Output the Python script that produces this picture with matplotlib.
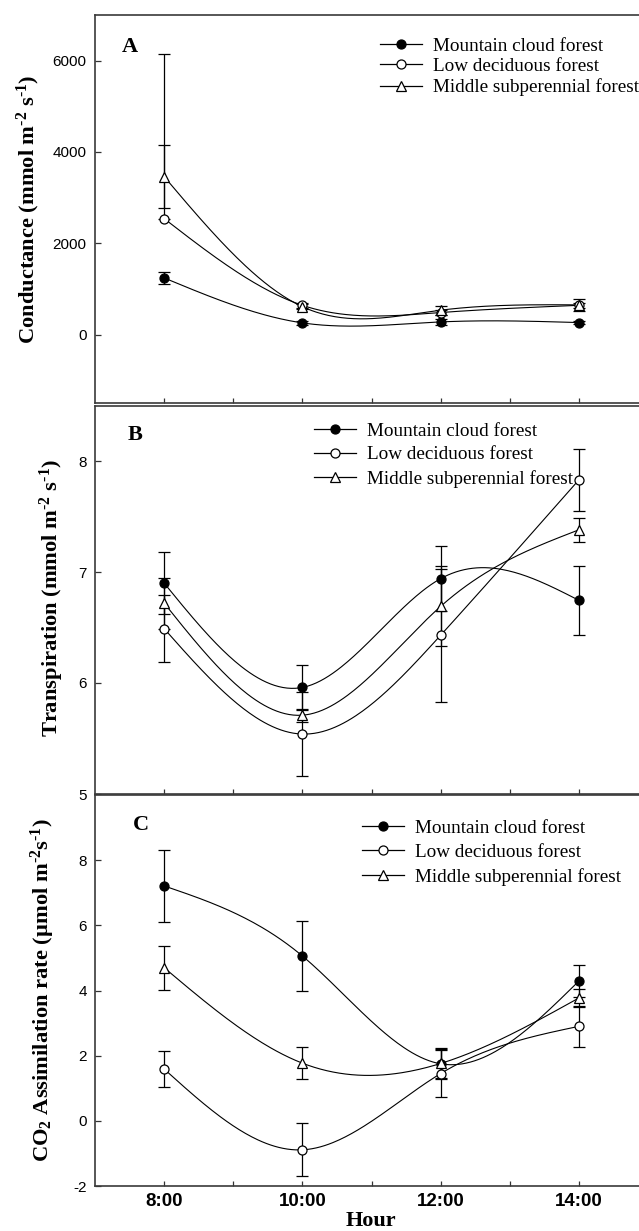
import numpy as np
import matplotlib
matplotlib.use("Agg")
import matplotlib.pyplot as plt
from matplotlib.lines import Line2D

plt.rcParams['font.family'] = ['Liberation Sans', 'DejaVu Sans']
plt.rcParams['mathtext.fontset'] = 'custom'
plt.rcParams['mathtext.rm'] = 'Liberation Serif:bold'
plt.rcParams['mathtext.bf'] = 'Liberation Serif:bold'
plt.rcParams['mathtext.default'] = 'bf'
plt.rcParams['axes.unicode_minus'] = False

# sampling hours
hours = [8, 10, 12, 14]
hour_labels = ['8:00', '10:00', '12:00', '14:00']
series_names = ['Mountain cloud forest', 'Low deciduous forest', 'Middle subperennial forest']

# A - conductance
cond_mountain = [1240, 255, 276, 262]
cond_mountain_err = [130, 40, 60, 40]
cond_low = [2540, 640, 482, 640]
cond_low_err_lo = [0, 50, 60, 60]
cond_low_err_hi = [3610, 50, 60, 60]
cond_middle = [3460, 610, 533, 650]
cond_middle_err = [690, 60, 95, 125]

# B - transpiration
tr_mountain = [6.90, 5.96, 6.94, 6.745]
tr_mountain_err = [0.28, 0.20, 0.29, 0.31]
tr_low = [6.49, 5.54, 6.43, 7.83]
tr_low_err = [0.30, 0.38, 0.60, 0.28]
tr_middle = [6.72, 5.71, 6.69, 7.38]
tr_middle_err = [0.23, 0.06, 0.36, 0.11]

# C - CO2 assimilation
co2_mountain = [7.21, 5.06, 1.75, 4.29]
co2_mountain_err = [1.11, 1.08, 0.45, 0.50]
co2_low = [1.59, -0.89, 1.45, 2.90]
co2_low_err = [0.56, 0.81, 0.72, 0.63]
co2_middle = [4.70, 1.77, 1.76, 3.77]
co2_middle_err = [0.67, 0.49, 0.48, 0.28]


def natural_spline(x, y, num=200):
    """Natural cubic spline through the points, used only to draw the curve."""
    x = np.asarray(x, float)
    y = np.asarray(y, float)
    n = len(x)
    h = np.diff(x)
    A = np.zeros((n, n))
    r = np.zeros(n)
    A[0, 0] = 1
    A[-1, -1] = 1
    for i in range(1, n - 1):
        A[i, i - 1] = h[i - 1]
        A[i, i] = 2 * (h[i - 1] + h[i])
        A[i, i + 1] = h[i]
        r[i] = 6 * ((y[i + 1] - y[i]) / h[i] - (y[i] - y[i - 1]) / h[i - 1])
    M = np.linalg.solve(A, r)
    xs = np.linspace(x[0], x[-1], num)
    ys = np.empty_like(xs)
    for k, t in enumerate(xs):
        i = min(np.searchsorted(x, t, side='right') - 1, n - 2)
        a, b = x[i], x[i + 1]
        hi = b - a
        ys[k] = (M[i] * (b - t) ** 3 / (6 * hi) + M[i + 1] * (t - a) ** 3 / (6 * hi)
                 + (y[i] / hi - M[i] * hi / 6) * (b - t)
                 + (y[i + 1] / hi - M[i + 1] * hi / 6) * (t - a))
    return xs, ys


styles = [dict(marker='o', mfc='black'),
          dict(marker='o', mfc='white'),
          dict(marker='^', mfc='white')]


def draw_series(ax, y, err, st):
    xs, ys = natural_spline(hours, y)
    ax.plot(xs, ys, color='black', lw=0.8, zorder=2)
    ax.errorbar(hours, y, yerr=err, fmt='none', ecolor='black', elinewidth=0.9,
                capsize=4.3, capthick=0.9, zorder=3)
    ax.plot(hours, y, ls='none', marker=st['marker'], mfc=st['mfc'], mec='black',
            mew=0.9, ms=6.5, zorder=4)


def style_axis(ax, ylim, yticks, show_x):
    ax.set_xlim(7, 15)
    ax.set_ylim(*ylim)
    ax.set_yticks(yticks)
    ax.set_xticks(hours)
    ax.set_xticks([9, 11, 13], minor=True)
    ax.tick_params(axis='both', which='both', direction='in', width=0.9, color='#333333')
    ax.tick_params(axis='x', which='both', length=3.5, top=False, pad=5)
    ax.tick_params(axis='y', length=4, right=False, labelsize=11, pad=6)
    if show_x:
        ax.set_xticklabels(hour_labels, fontsize=13.5, fontweight='bold')
    else:
        ax.set_xticklabels([])
    for s in ax.spines.values():
        s.set_color('#3a3a3a')
        s.set_linewidth(1.2)


def add_legend(ax, x, y, spacing):
    handles = [Line2D([], [], color='black', lw=0.9, marker=st['marker'], mfc=st['mfc'],
                      mec='black', mew=0.9, ms=6.5) for st in styles]
    ax.legend(handles, series_names, loc='upper left', bbox_to_anchor=(x, y),
              frameon=False, borderpad=0, borderaxespad=0, handlelength=2.2,
              handletextpad=0.55, labelspacing=spacing,
              prop={'family': 'Liberation Serif', 'size': 13.8})


W, H = 639, 1231
fig = plt.figure(figsize=(W / 100, H / 100), dpi=100)


def px_axes(left, top, right, bottom):
    return fig.add_axes([left / W, 1 - bottom / H, (right - left) / W, (bottom - top) / H])


axA = px_axes(95, 15, 648, 403)
axB = px_axes(95, 405.5, 648, 794)
axC = px_axes(95, 795, 648, 1186)

draw_series(axA, cond_mountain, cond_mountain_err, styles[0])
draw_series(axA, cond_low, [cond_low_err_lo, cond_low_err_hi], styles[1])
draw_series(axA, cond_middle, cond_middle_err, styles[2])
style_axis(axA, (-1500, 7000), [0, 2000, 4000, 6000], False)
add_legend(axA, 0.515, 0.943, 0.17)

draw_series(axB, tr_mountain, tr_mountain_err, styles[0])
draw_series(axB, tr_low, tr_low_err, styles[1])
draw_series(axB, tr_middle, tr_middle_err, styles[2])
style_axis(axB, (5, 8.5), [5, 6, 7, 8], False)
add_legend(axB, 0.396, 0.957, 0.33)

draw_series(axC, co2_mountain, co2_mountain_err, styles[0])
draw_series(axC, co2_low, co2_low_err, styles[1])
draw_series(axC, co2_middle, co2_middle_err, styles[2])
style_axis(axC, (-2, 10), [-2, 0, 2, 4, 6, 8], True)
add_legend(axC, 0.483, 0.938, 0.36)

hy = '\u2010'
serif_bold = dict(family='Liberation Serif', fontweight='bold')
fig.text(28 / W, 1 - 209 / H, f'Conductance (mmol m$^{{{hy}2}}$ s$^{{{hy}1}}$)', rotation=90,
         ha='center', va='center', fontsize=16.2, **serif_bold)
fig.text(52 / W, 1 - 598 / H, f'Transpiration (mmol m$^{{{hy}2}}$ s$^{{{hy}1}}$)', rotation=90,
         ha='center', va='center', fontsize=16.2, **serif_bold)
fig.text(43 / W, 1 - 990 / H, f'CO$_2$ Assimilation rate (\u00b5mol m$^{{{hy}2}}$s$^{{{hy}1}}$)',
         rotation=90, ha='center', va='center', fontsize=16.2, **serif_bold)

fig.text(130 / W, 1 - 47 / H, 'A', ha='center', va='center', fontsize=16, **serif_bold)
fig.text(135 / W, 1 - 435 / H, 'B', ha='center', va='center', fontsize=16, **serif_bold)
fig.text(141 / W, 1 - 825 / H, 'C', ha='center', va='center', fontsize=16, **serif_bold)
fig.text(371 / W, 1 - 1221 / H, 'Hour', ha='center', va='center', fontsize=16, **serif_bold)

fig.savefig('out.png', dpi=100)
